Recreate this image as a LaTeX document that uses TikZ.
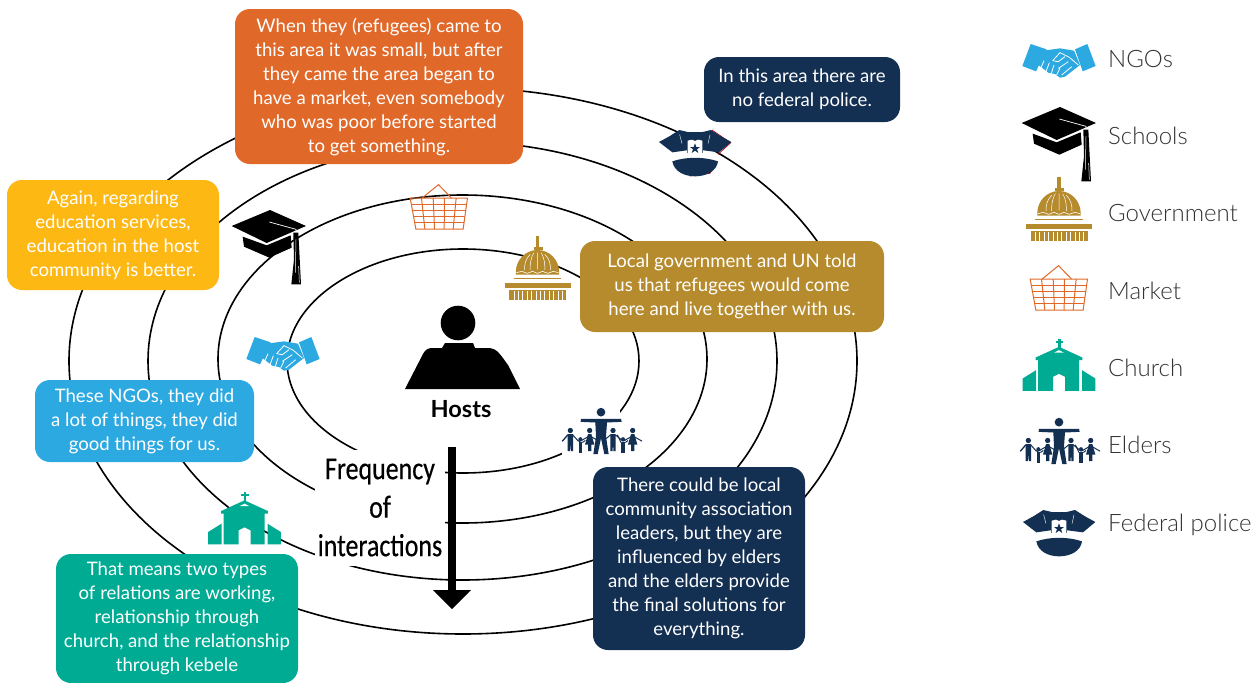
\documentclass[tikz,border=0pt]{standalone}
\usepackage{fontspec}
\setmainfont{Lato}
\newfontfamily\lgt{Lato Light}
\newfontfamily\cond[FakeBold=0.5]{Carlito}
\definecolor{orng}{HTML}{E0692A}
\definecolor{navy}{HTML}{132F52}
\definecolor{yell}{HTML}{FDB813}
\definecolor{gold}{HTML}{B68B2D}
\definecolor{blu}{HTML}{2DA9E1}
\definecolor{teal2}{HTML}{00AB93}
\definecolor{legtxt}{HTML}{333333}
\newcommand{\adult}[3]{%
  \fill (#1,#2) circle (8);
  \fill (#1-8,#2+11) -- (#1+8,#2+11) -- (#1+8,#2+62) -- (#1+1.5,#2+62) -- (#1,#2+40) -- (#1-1.5,#2+62) -- (#1-8,#2+62) -- cycle;
  \draw[line width=1pt] (#1-#3,#2+32) -- (#1-7,#2+13) (#1+7,#2+13) -- (#1+#3,#2+32);
}
\newcommand{\gal}[3]{%
  \fill (#1,#2) circle (8);
  \fill (#1-5,#2+11) -- (#1+5,#2+11) -- (#1+14,#2+42) -- (#1+5,#2+42) -- (#1+5,#2+62) -- (#1-5,#2+62) -- (#1-5,#2+42) -- (#1-14,#2+42) -- cycle;
  \draw[line width=1pt] (#1-#3,#2+32) -- (#1-5,#2+13) (#1+5,#2+13) -- (#1+#3,#2+32);
}
\newcommand{\kid}[2]{%
  \fill (#1,#2) circle (6);
  \fill (#1-5,#2+8) -- (#1+5,#2+8) -- (#1+5,#2+40) -- (#1-5,#2+40) -- cycle;
}
\tikzset{
  x=1pt,y=-1pt,
  ring/.style={draw=black,line width=1.6pt},
  msgbox/.style={rounded corners=15,text=white,align=center,inner sep=0pt,
     font=\fontsize{18.6}{24}\selectfont,anchor=center},
  legtext/.style={anchor=west,inner sep=0pt,text=legtxt,font=\lgt\fontsize{24}{28}\selectfont},
  pics/handshake/.style={code={\begin{scope}[scale=1/3,shift={(-147,-90)}]
    \fill[blu] (62,42)--(110,58)--(78,124)--(37,108)--cycle;
    \fill[blu] (232,42)--(257,108)--(218,124)--(195,58)--cycle;
    \fill[blu] (100,62)--(150,55)--(192,62)--(210,105)--(165,140)--(150,143)--(135,132)--(115,128)--(85,105)--cycle;
    \draw[white,line width=.8pt] (128,92)--(150,68)--(178,82)--(205,105) (128,92)--(145,95)--(165,80)
      (118,98)--(108,125) (102,92)--(92,115) (132,105)--(124,130) (150,115)--(140,135)
      (155,135)--(185,110) (145,115)--(175,95);
  \end{scope}}},
  pics/capicon/.style={code={\begin{scope}[scale=1/3,shift={(-147,-343)}]
    \fill[black] (150,232)--(258,280)--(140,331)--(35,280)--cycle;
    \fill[black] (68,312)--(140,338)--(212,308)--(215,345)--(148,375)--(72,342)--cycle;
    \draw[white,line width=.7pt] (148,268)--(228,290)--(228,305);
    \fill[black] (220,300)--(235,300)--(243,455)--(214,455)--(222,380)--cycle;
    \draw[white,line width=.5pt] (228,320)--(226,420) (236,400)--(238,450);
  \end{scope}}},
  pics/dome/.style={code={\begin{scope}[scale=1/3,shift={(-147,-536)}]
    \fill[gold] (142,440) rectangle (152,476);
    \fill[gold] (135,474) rectangle (162,482);
    \fill[gold] (82,556) -- (82,548) arc[start angle=180,end angle=360,x radius=65,y radius=66] -- (212,556) -- cycle;
    \draw[white,line width=.5pt] (147,490)--(147,540) (125,495) .. controls (110,510) and (108,525) .. (108,542)
      (169,495) .. controls (184,510) and (186,525) .. (186,542)
      (136,490) .. controls (125,510) and (125,525) .. (125,542)
      (158,490) .. controls (169,510) and (169,525) .. (169,542);
    \draw[white,line width=.6pt] (84,550) -- (100,546) -- (116,552) -- (132,546) -- (147,552) -- (162,546) -- (178,552) -- (194,546) -- (210,550);
    \fill[gold] (75,565) rectangle (218,570);
    \fill[gold] (48,582) rectangle (246,597);
    \fill[gold] (62,601) rectangle (233,632);
    \foreach \k in {0,...,11}{\draw[white,line width=.5pt] (76+\k*13.2,605)--(76+\k*13.2,632);}
  \end{scope}}},
  pics/basket/.style={code={\begin{scope}[scale=1/3,shift={(-119,-84)}]
    \begin{scope}[draw=orng,line width=1pt]
    \draw (67,57)--(116,17)--(155,57);
    \draw (31,57)--(203,57)--(190,150)--(48,150)--cycle;
    \draw (34,75)--(200,75) (37,94)--(197,94) (40,113)--(194,113) (44,131)--(192,131);
    \draw (65,57)--(75,150) (100,57)--(104,150) (134,57)--(133,150) (169,57)--(160,150);
    \end{scope}
  \end{scope}}},
  pics/church/.style={code={\begin{scope}[scale=1/3,shift={(-147,-133)}]
    \fill[teal2] (144,55) rectangle (152,82);
    \fill[teal2] (137,62) rectangle (159,68);
    \fill[teal2] (147,80)--(217,112)--(217,120)--(207,120)--(207,212)--(165,212)--(165,170)--(147,161)--(129,170)--(129,212)--(84,212)--(84,120)--(77,120)--(77,112)--cycle;
    \fill[white] (133,97)--(147,90)--(161,97)--cycle;
    \fill[teal2] (38,175)--(78,150)--(78,212)--(38,212)--cycle;
    \fill[teal2] (216,150)--(256,175)--(256,212)--(216,212)--cycle;
  \end{scope}}},
  pics/elders/.style={code={\begin{scope}[scale=1/3,shift={(-147,-365)},fill=navy,draw=navy]
    \fill (147,307) circle (13);
    \fill (87,327)--(207,327)--(209,336)--(165,338)--(162,380)--(170,433)--(157,433)--(147,385)--(137,433)--(124,433)--(132,380)--(130,338)--(86,336)--cycle;
    \adult{55}{362}{24}
    \kid{85}{388}
    \gal{113}{362}{-28}
    \adult{183}{362}{30}
    \kid{213}{388}
    \gal{242}{362}{-28}
    \draw[line width=1pt] (31,394)--(47,375) (79,392)--(85,398) (91,398)--(100,392) (196,375)--(207,398) (220,398)--(228,392);
  \end{scope}}},
  pics/police/.style={code={\begin{scope}[scale=1/3,shift={(-147,-640)}]
    \fill[navy] (39,607)--(70,590)--(100,571)--(125,577)--(170,577)--(195,571)--(225,590)--(256,607)--(219,638)--(172,632)--(147,632)--(122,632)--(79,638)--cycle;
    \fill[navy] (122,600) rectangle (172,640);
    \fill[white] (125,603)--(138,600)--(147,604)--(156,600)--(169,603)--(169,640)--(125,640)--cycle;
    \fill[navy] (147,611)--(151,622)--(162,622)--(153,629)--(157,640)--(147,633)--(137,640)--(141,629)--(132,622)--(143,622)--cycle;
    \fill[navy] (79,665) .. controls (120,651) and (175,651) .. (216,665) .. controls (212,695) and (180,710) .. (147,710) .. controls (115,710) and (84,695) .. (79,665) -- cycle;
    \draw[white,line width=.4pt] (101,585)--(108,612) (192,585)--(186,612);
  \end{scope}}},
}
\begin{document}
\begin{tikzpicture}
\useasboundingbox (0,0) rectangle (1254,683);
% rings
\draw[ring] (463,361) ellipse[x radius=176,y radius=112];
\draw[ring] (462.5,359) ellipse[x radius=244.5,y radius=164];
\draw[ring] (462.5,361) ellipse[x radius=314.5,y radius=219];
\draw[ring] (463,361) ellipse[x radius=394,y radius=273];
% white masks
\fill[white] (315,450) rectangle (445,566);
\fill[white] (562,405) rectangle (620,458);
\fill[white] (620,440) rectangle (641,458);
% centre figure
\fill[black] (458,323) circle (17.3);
\fill[black] (405,389) -- (423,354) .. controls (425,350) and (428,348) .. (432,348) -- (442,348) -- (445,343) -- (473,343) -- (475,348) -- (490,348) .. controls (497,349) and (500,354) .. (508,365) -- (520,389) -- cycle;
\node[inner sep=0pt,font=\bfseries\fontsize{23.6}{26}\selectfont] (hosts) at (461,409) {Hosts};
\node[inner sep=0pt,align=center,font=\cond\fontsize{32}{38.5}\selectfont,xscale=.81] (freq) at (380,507.5) {Frequency\\of\\interactions};
% axis arrow
\coordinate (atop) at (452,447);
\coordinate (atip) at (452,609);
\fill[black] (448.3,447) rectangle (455.7,591);
\fill[black] (433,590) -- (471,590) -- (452,609) -- cycle;
% boxes
\node[msgbox,fill=orng,minimum width=288,minimum height=155] (b1) at (379,86.5) {\raisebox{-.5pt}{}When they (refugees) came to\\this area it was small, but after\\they came the area began to\\have a market, even somebody\\who was poor before started\\to get something.};
\node[msgbox,fill=navy,minimum width=196,minimum height=65] (b2) at (802,89.5) {In this area there are\\no federal police.};
\node[msgbox,fill=yell,minimum width=212,minimum height=110] (b3) at (113,235) {Again, regarding\\education services,\\education in the host\\community is better.};
\node[msgbox,fill=gold,minimum width=304,minimum height=91] (b4) at (732,286.5) {Local government and UN told\\us that refugees would come\\here and live together with us.};
\node[msgbox,fill=blu,minimum width=219,minimum height=82] (b5) at (144.5,421) {These NGOs, they did\\a lot of things, they did\\good things for us.};
\node[msgbox,fill=teal2,minimum width=242,minimum height=129] (b6) at (177,618.5) {That means two types\\of relations are working,\\relationship through\\church, and the relationship\\through kebele};
\node[msgbox,fill=navy,minimum width=212,minimum height=183] (b7) at (699,558.5) {There could be local\\community association\\leaders, but they are\\influenced by elders\\and the elders provide\\the final solutions for\\everything.};
% body icons
\pic at (283,353) {handshake};
\pic at (269,247) {capicon};
\pic at (537.5,268) {dome};
\pic at (439.5,207) {basket};
\pic at (244.5,518) {church};
\pic at (601,431.5) {elders};
\draw[red!70!black,line width=.7pt] (712,130) -- (730.7,142.8) -- (718,154.3) (717,162.7) -- (710,173.3) -- (690,176);
\pic at (695,153) {police};
% legend icons
\pic at (1059,60) {handshake};
\pic at (1059,144) {capicon};
\pic at (1059,209) {dome};
\pic at (1059.5,288) {basket};
\pic at (1059,364.5) {church};
\pic at (1059,441.5) {elders};
\pic at (1059,533) {police};
% legend
\node[legtext] (l1) at (1108,59) {NGOs};
\node[legtext] (l2) at (1108,136) {Schools};
\node[legtext] (l3) at (1108,213) {Government};
\node[legtext] (l4) at (1108,290.5) {Market};
\node[legtext] (l5) at (1108,368) {Church};
\node[legtext] (l6) at (1108,445) {Elders};
\node[legtext] (l7) at (1108,525) {Federal police};
\end{tikzpicture}
\end{document}
